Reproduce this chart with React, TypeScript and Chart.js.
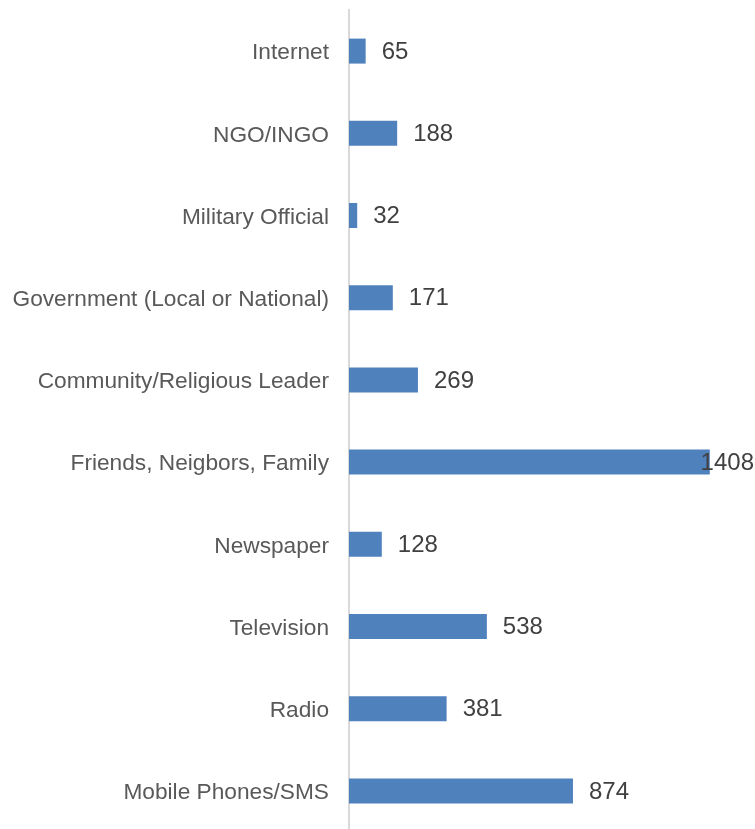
import React, { useEffect, useRef } from "react";
import { Chart, registerables } from "chart.js";

Chart.register(...registerables);

const categories = [
  "Internet",
  "NGO/INGO",
  "Military Official",
  "Government (Local or National)",
  "Community/Religious Leader",
  "Friends, Neigbors, Family",
  "Newspaper",
  "Television",
  "Radio",
  "Mobile Phones/SMS",
];
const values = [65, 188, 32, 171, 269, 1408, 128, 538, 381, 874];
const axisMax = 1600;

export default function App() {
  const ref = useRef<HTMLCanvasElement>(null);
  useEffect(() => {
    document.body.style.margin = "0";
    const valueLabels = {
      id: "valueLabels",
      afterDatasetsDraw(chart: any) {
        const ctx = chart.ctx;
        const meta = chart.getDatasetMeta(0);
        ctx.save();
        ctx.font = "24px 'Liberation Sans', Arial, sans-serif";
        ctx.fillStyle = "#404040";
        ctx.textBaseline = "middle";
        ctx.textAlign = "left";
        meta.data.forEach((bar: any, i: number) => {
          const txt = String(values[i]);
          const w = ctx.measureText(txt).width;
          let x = bar.x + 16;
          x = Math.min(x, 754 - w);
          ctx.fillText(txt, x, bar.y + 1);
        });
        ctx.restore();
      },
    };
    const chart = new Chart(ref.current as HTMLCanvasElement, {
      type: "bar",
      data: {
        labels: categories,
        datasets: [
          {
            data: values,
            backgroundColor: "#4f81bd",
            barPercentage: 0.304,
            categoryPercentage: 1,
          },
        ],
      },
      options: {
        indexAxis: "y",
        animation: false,
        responsive: false,
        maintainAspectRatio: false,
        layout: { padding: { top: 10, right: 0, bottom: 0, left: 0 } },
        plugins: { legend: { display: false }, tooltip: { enabled: false } },
        scales: {
          x: { display: false, min: 0, max: axisMax },
          y: {
            grid: { display: false, drawTicks: false },
            border: { display: true, color: "#d9d9d9", width: 2 },
            ticks: {
              color: "#595959",
              font: { family: "'Liberation Sans', Arial, sans-serif", size: 22.7 },
              padding: 20,
              labelOffset: 2,
            },
            afterFit(s: any) {
              s.width = 349;
              s.paddingTop = 0;
              s.paddingBottom = 0;
            },
          },
        },
      },
      plugins: [valueLabels],
    } as any);
    return () => chart.destroy();
  }, []);
  return (
    <div style={{ width: 755, height: 829, overflow: "hidden", position: "relative" }}>
      <canvas ref={ref} width={759} height={832} style={{ display: "block", width: 759, height: 832 }} />
    </div>
  );
}
